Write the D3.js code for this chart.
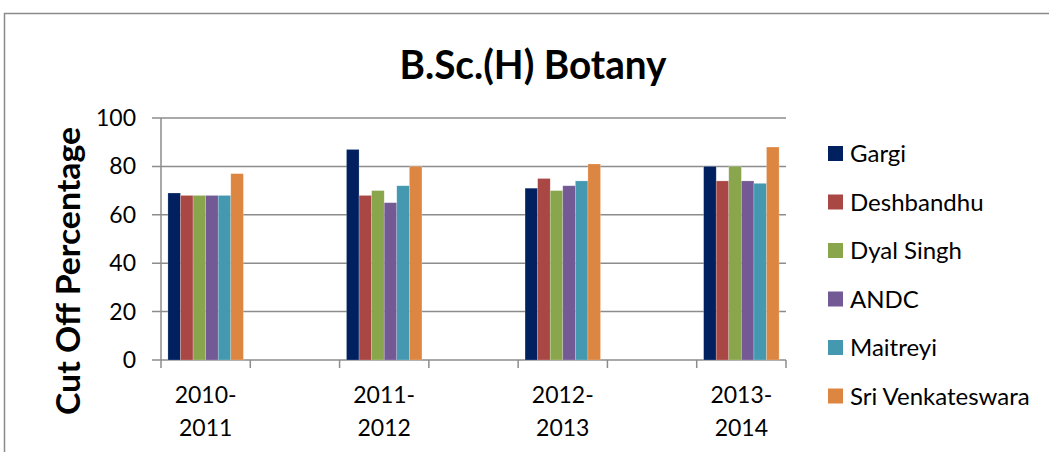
<!DOCTYPE html>
<html>
<head>
<meta charset="utf-8">
<script src="https://cdn.jsdelivr.net/npm/d3@7"></script>
<style>
  body { margin: 0; background: #fff; }
  svg { display: block; font-family: Lato, "Open Sans", sans-serif; }
</style>
</head>
<body>
<div id="chart"></div>
<script>
// Cut off percentages, B.Sc.(H) Botany
const years = ['2010-2011', '2011-2012', '2012-2013', '2013-2014'];
const colleges = ['Gargi', 'Deshbandhu', 'Dyal Singh', 'ANDC', 'Maitreyi', 'Sri Venkateswara'];
const gargi = [69, 87, 71, 80];
const deshbandhu = [68, 68, 75, 74];
const dyalSingh = [68, 70, 70, 80];
const andc = [68, 65, 72, 74];
const maitreyi = [68, 72, 74, 73];
const sriVenkateswara = [77, 80, 81, 88];
const yTicks = [0, 20, 40, 60, 80, 100];
const colors = ['#002060', '#a84744', '#8aa64c', '#735a95', '#4499b0', '#dd8642'];

const seriesValues = [gargi, deshbandhu, dyalSingh, andc, maitreyi, sriVenkateswara];

const width = 1049, height = 452;
const margin = { top: 118, left: 161, right: 263, bottom: 92 };
const plotW = width - margin.left - margin.right;
const plotH = height - margin.top - margin.bottom;

const svg = d3.select('#chart').append('svg')
  .attr('width', width)
  .attr('height', height);

// outer chart border (runs off the right and bottom)
svg.append('rect')
  .attr('x', 4.5).attr('y', 13.5)
  .attr('width', 1100).attr('height', 500)
  .attr('fill', 'none')
  .attr('stroke', '#8a8a8a')
  .attr('stroke-width', 1.5);

// an empty slot sits between consecutive years on the axis
const slots = [];
years.forEach((yr, i) => { slots.push(yr); if (i < years.length - 1) slots.push('gap' + i); });

const x = d3.scaleBand().domain(slots).range([0, plotW]);
const inner = d3.scaleBand().domain(colleges).range([0, x.bandwidth()]).paddingOuter(0.55);
const y = d3.scaleLinear().domain([0, 100]).range([plotH, 0]);

const g = svg.append('g').attr('transform', `translate(${margin.left},${margin.top})`);

// gridlines + y ticks
g.selectAll('.grid')
  .data(yTicks)
  .enter().append('line')
  .attr('x1', -9).attr('x2', plotW)
  .attr('y1', d => y(d)).attr('y2', d => y(d))
  .attr('stroke', '#8c8c8c')
  .attr('stroke-width', 1.5);

g.selectAll('.ylab')
  .data(yTicks)
  .enter().append('text')
  .attr('x', -25)
  .attr('y', d => y(d))
  .attr('dy', '0.35em')
  .attr('text-anchor', 'end')
  .attr('font-size', 23)
  .attr('fill', '#000')
  .text(d => d);

// y axis line
g.append('line')
  .attr('x1', 0).attr('x2', 0)
  .attr('y1', 0).attr('y2', plotH)
  .attr('stroke', '#8c8c8c').attr('stroke-width', 1.5);

// x tick marks at slot boundaries
const xTickPos = slots.map(s => x(s)).concat([plotW]);
g.selectAll('.xtick')
  .data(xTickPos)
  .enter().append('line')
  .attr('x1', d => d).attr('x2', d => d)
  .attr('y1', plotH).attr('y2', plotH + 8)
  .attr('stroke', '#8c8c8c').attr('stroke-width', 1.5);

// bars
colleges.forEach((c, si) => {
  g.selectAll('.bar-' + si)
    .data(seriesValues[si])
    .enter().append('rect')
    .attr('x', (d, i) => x(years[i]) + inner(c))
    .attr('width', inner.bandwidth())
    .attr('y', d => y(d))
    .attr('height', d => plotH - y(d))
    .attr('fill', colors[si])
    .attr('stroke', 'rgba(255,255,255,0.35)')
    .attr('stroke-width', 0.6);
});

// x labels, split in two lines
years.forEach(yr => {
  const parts = yr.split('-');
  const cx = x(yr) + x.bandwidth() / 2;
  const t = g.append('text')
    .attr('text-anchor', 'middle')
    .attr('font-size', 23)
    .attr('fill', '#000');
  t.append('tspan').attr('x', cx).attr('y', plotH + 43).text(parts[0] + '-');
  t.append('tspan').attr('x', cx).attr('y', plotH + 76).text(parts[1]);
});

// title
svg.append('text')
  .attr('x', 533).attr('y', 79)
  .attr('text-anchor', 'middle')
  .attr('font-size', 40)
  .attr('font-weight', 'bold')
  .attr('textLength', 267)
  .attr('lengthAdjust', 'spacingAndGlyphs')
  .text('B.Sc.(H) Botany');

// y axis title
svg.append('text')
  .attr('transform', 'translate(80,271) rotate(-90)')
  .attr('text-anchor', 'middle')
  .attr('font-size', 32)
  .attr('font-weight', 'bold')
  .attr('textLength', 288)
  .attr('lengthAdjust', 'spacingAndGlyphs')
  .text('Cut Off Percentage');

// legend
const legend = svg.append('g').attr('transform', 'translate(828,153)');
colleges.forEach((c, i) => {
  const row = legend.append('g').attr('transform', `translate(0,${i * 48.5})`);
  row.append('rect')
    .attr('x', 0).attr('y', -7)
    .attr('width', 15).attr('height', 15)
    .attr('fill', colors[i]);
  row.append('text')
    .attr('x', 22).attr('y', 1)
    .attr('dy', '0.35em')
    .attr('font-size', 24)
    .attr('fill', '#000')
    .text(c);
});
</script>
</body>
</html>
